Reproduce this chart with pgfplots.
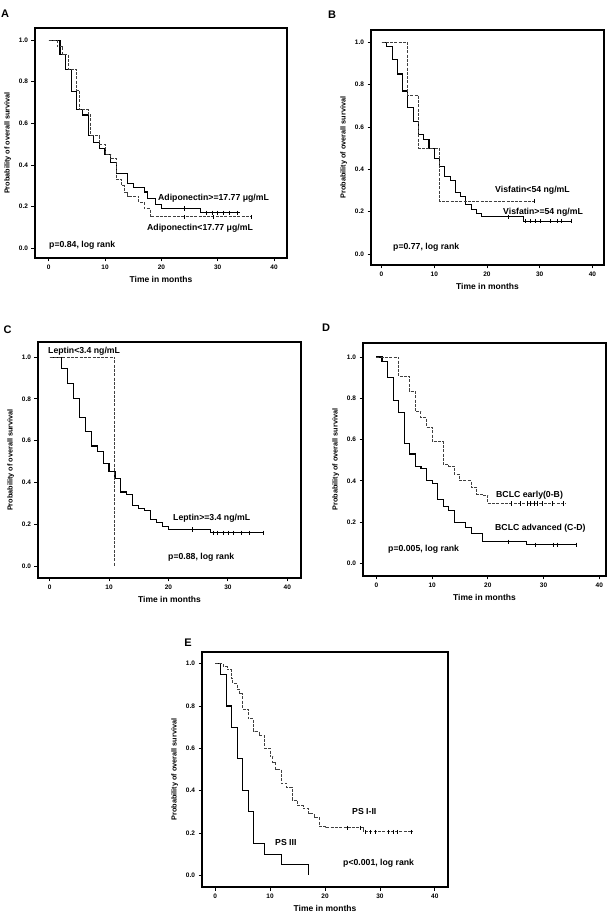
\documentclass[border=0pt]{standalone}
\usepackage{fontspec}
\setmainfont{Liberation Sans}
\usepackage{pgfplots}
\pgfplotsset{compat=1.18}
\pgfplotsset{km/.style={
 scale only axis, anchor=south west,
 xtick={0,10,20,30,40}, ytick={0,0.2,0.4,0.6,0.8,1.0},
 axis line style={line width=1.3pt},
 tick align=outside, major tick length=3.5pt,
 every tick/.style={black, line width=0.8pt},
 xtick pos=bottom, ytick pos=left,
 /pgf/number format/assume math mode=true,
 yticklabel style={/pgf/number format/.cd, fixed, fixed zerofill, precision=1},
 ticklabel style={font=\fontsize{6.5}{7}\selectfont\bfseries},
 xlabel={Time in months}, ylabel={Probability of overall survival},
 xlabel style={font=\fontsize{8.5}{9}\selectfont\bfseries},
 ylabel style={font=\fontsize{7.3}{8}\selectfont\bfseries},
 xlabel shift=0pt, ylabel shift=1pt,
},
sol/.style={black, line width=1.1pt, const plot},
das/.style={black!75, line width=1pt, const plot, dash pattern=on 3pt off 1.3pt},
cen/.style={only marks, mark=|, mark size=2.2pt, mark options={black, line width=0.7pt}},
}
\begin{document}
\begin{tikzpicture}
\path[use as bounding box] (0,0) rectangle (612pt,917pt);

% ---------- A ----------
\begin{axis}[km, at={(35pt,659pt)}, width=252pt, height=230pt,
  xmin=-2.43, xmax=42.3, ymin=-0.047, ymax=1.058]
\addplot[sol] coordinates {(0,1)(2,0.93)(3,0.86)(4,0.755)(5,0.665)(6,0.64)(7,0.54)(8,0.51)(9,0.48)(10,0.45)(11,0.41)(12,0.36)(14,0.31)(15,0.29)(17,0.27)(17.5,0.24)(19,0.21)(20,0.19)(27,0.17)(34,0.17)};
\addplot[das] coordinates {(0,1)(1.5,0.97)(2.5,0.93)(3.5,0.86)(5,0.76)(5.5,0.665)(7,0.64)(7.5,0.54)(9,0.5)(10,0.45)(11,0.43)(12,0.33)(13,0.30)(13.5,0.27)(14,0.25)(16,0.22)(17,0.19)(18,0.15)(36,0.15)};
\addplot[cen] coordinates {(24,0.19)(28,0.17)(29,0.17)(30,0.17)(31,0.17)(32,0.17)(33.5,0.17)};
\addplot[cen] coordinates {(24,0.15)(29.2,0.15)(36,0.15)};
\end{axis}

% ---------- B ----------
\begin{axis}[km, at={(371pt,652pt)}, width=233pt, height=235pt,
  xmin=-2.0, xmax=42.2, ymin=-0.052, ymax=1.058]
\addplot[sol] coordinates {(0,1)(1,0.98)(2,0.92)(3,0.85)(4,0.77)(5,0.69)(6,0.625)(7,0.565)(8,0.54)(9,0.5)(10,0.45)(11,0.415)(12,0.365)(13,0.345)(14,0.29)(15,0.27)(16,0.235)(17,0.21)(18,0.19)(19,0.175)(27,0.155)(36,0.155)};
\addplot[das] coordinates {(0,1)(5,0.75)(7,0.5)(11,0.25)(29,0.25)};
\addplot[cen] coordinates {(24,0.175)(27.2,0.155)(28.2,0.155)(29.2,0.155)(30.2,0.155)(32.1,0.155)(33.3,0.155)(34.2,0.155)(36,0.155)};
\addplot[cen] coordinates {(29,0.25)};
\end{axis}

% ---------- C ----------
\begin{axis}[km, at={(38pt,339pt)}, width=263pt, height=236pt,
  xmin=-1.95, xmax=42.3, ymin=-0.056, ymax=1.072]
\addplot[sol] coordinates {(0,1)(2,0.945)(3,0.875)(4,0.80)(5,0.71)(6,0.645)(7,0.575)(8,0.55)(9,0.49)(10,0.455)(11,0.42)(12,0.355)(13,0.345)(14,0.29)(15,0.275)(16,0.265)(17,0.225)(18,0.21)(19,0.19)(20,0.175)(27,0.16)(36,0.16)};
\addplot[das] coordinates {(0,1)(11,1)(11,0)};
\addplot[cen] coordinates {(24,0.175)(27.5,0.16)(28.3,0.16)(29.2,0.16)(30,0.16)(31,0.16)(32.3,0.16)(33.6,0.16)(36,0.16)};
\end{axis}

% ---------- D ----------
\begin{axis}[km, at={(363pt,341pt)}, width=243pt, height=233pt,
  xmin=-2.4, xmax=41.2, ymin=-0.061, ymax=1.068]
\addplot[sol] coordinates {(0,1)(1,0.98)(2,0.9)(3,0.79)(4,0.73)(5,0.58)(6,0.53)(7,0.47)(8,0.46)(9,0.40)(10,0.385)(11,0.31)(12,0.275)(13,0.255)(14,0.20)(16,0.175)(17,0.145)(19,0.105)(27,0.09)(36,0.09)};
\addplot[das] coordinates {(0,1)(4,0.905)(6,0.835)(7,0.735)(8,0.705)(9,0.66)(10,0.59)(12,0.48)(13,0.47)(14,0.43)(15,0.40)(17,0.37)(18,0.335)(19,0.33)(20,0.29)(34,0.29)};
\addplot[cen] coordinates {(23.6,0.105)(28.5,0.09)(31.7,0.09)(32.5,0.09)(35.8,0.09)};
\addplot[cen] coordinates {(24.3,0.29)(25.8,0.29)(27,0.29)(27.6,0.29)(28.3,0.29)(28.9,0.29)(29.7,0.29)(31.5,0.29)(33.6,0.29)};
\end{axis}

% ---------- E ----------
\begin{axis}[km, at={(202pt,30pt)}, width=246pt, height=235pt,
  xmin=-2.4, xmax=42.4, ymin=-0.055, ymax=1.055]
\addplot[sol] coordinates {(0,1)(1,0.95)(2,0.80)(3,0.70)(4,0.55)(5,0.40)(6,0.30)(7,0.15)(9,0.10)(12,0.05)(17,0)};
\addplot[das] coordinates {(0,1)(1.5,0.985)(2.2,0.97)(3,0.93)(3.2,0.905)(4,0.88)(4.5,0.86)(5,0.785)(6,0.74)(7,0.68)(8,0.66)(9,0.60)(10,0.56)(10.5,0.535)(11,0.50)(12,0.435)(13,0.415)(14,0.355)(15,0.33)(16,0.315)(17,0.29)(18,0.275)(19,0.23)(20,0.225)(27,0.205)(36,0.205)};
\addplot[cen] coordinates {(24,0.225)(26.4,0.225)(27.3,0.205)(28.2,0.205)(29.1,0.205)(31.5,0.205)(32.4,0.205)(33.1,0.205)(35.8,0.205)};
\end{axis}

% ---------- texts ----------
\begin{scope}[shift={(0pt,917pt)}, x=1pt, y=-1pt,
  lab/.style={anchor=west, inner sep=0pt, font=\fontsize{8.7}{10}\selectfont\bfseries},
  pan/.style={anchor=center, inner sep=0pt, font=\fontsize{11}{12}\selectfont\bfseries}]
\node[pan] at (5,14) {A};
\node[pan] at (332,15) {B};
\node[pan] at (7.5,330) {C};
\node[pan] at (326,328) {D};
\node[pan] at (188,643) {E};
\node[lab] at (158,198) {Adiponectin>=17.77 μg/mL};
\node[lab] at (147,228) {Adiponectin<17.77 μg/mL};
\node[lab] at (49,245) {p=0.84, log rank};
\node[lab] at (495,190) {Visfatin<54 ng/mL};
\node[lab] at (503,212) {Visfatin>=54 ng/mL};
\node[lab] at (393,247) {p=0.77, log rank};
\node[lab] at (48,351) {Leptin<3.4 ng/mL};
\node[lab] at (173,518) {Leptin>=3.4 ng/mL};
\node[lab] at (168,557) {p=0.88, log rank};
\node[lab] at (496,495) {BCLC early(0-B)};
\node[lab] at (495,528) {BCLC advanced (C-D)};
\node[lab] at (388,549) {p=0.005, log rank};
\node[lab] at (352,812) {PS I-II};
\node[lab] at (275,843) {PS III};
\node[lab] at (343,863) {p<0.001, log rank};
\end{scope}
\end{tikzpicture}
\end{document}
